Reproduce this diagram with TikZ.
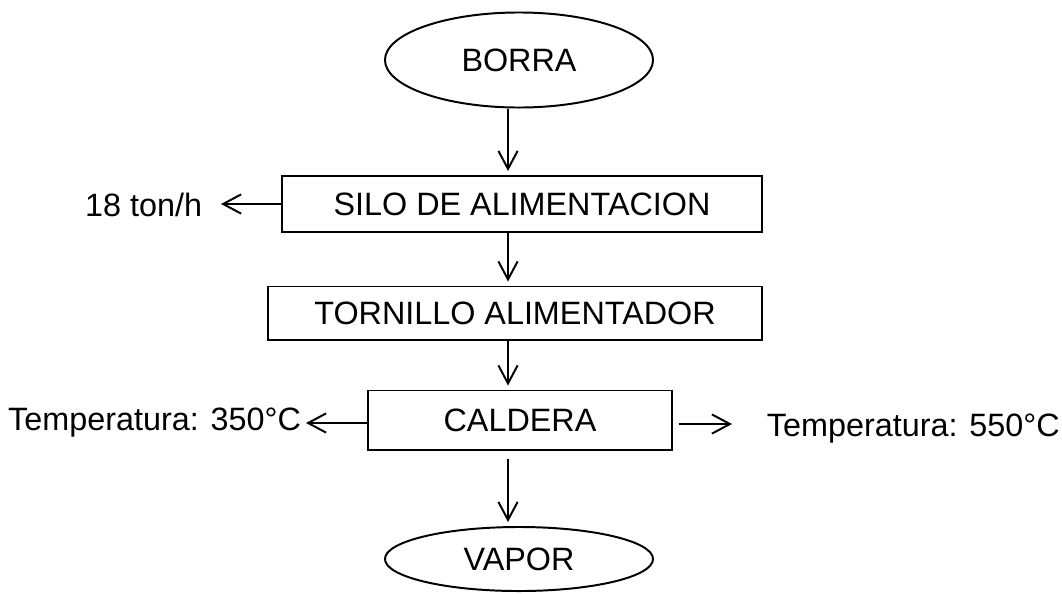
\documentclass[tikz,border=0pt]{standalone}
\usepackage{fontspec}
\setmainfont{Liberation Sans}
\usetikzlibrary{shapes.geometric,arrows.meta}

\begin{document}
\begin{tikzpicture}[x=0.025cm, y=-0.025cm, font=\fontsize{23}{27}\selectfont,
    terminal/.style={draw, ellipse, line width=1.4pt, inner sep=0pt},
    caja/.style={draw, rectangle, line width=1.4pt, inner sep=0pt},
    flecha/.style={-{Straight Barb[length=4.5mm, width=4.8mm, line width=1.4pt]}, line width=1.4pt}]
    \useasboundingbox (0,0) rectangle (1062,593);
        \coordinate (eje) at (508,0);
        \node[terminal, minimum width=6.7cm, minimum height=2.375cm] (borra) at (519,60) {BORRA};
        \node[caja, minimum width=11.975cm, minimum height=1.4cm] (silo) at (522,204) {SILO DE ALIMENTACION};
        \node[caja, minimum width=12.35cm, minimum height=1.325cm] (tornillo) at (515,313) {TORNILLO ALIMENTADOR};
        \node[caja, minimum width=7.575cm, minimum height=1.475cm] (caldera) at (520,420) {CALDERA};
        \node[terminal, minimum width=6.7cm, minimum height=1.6cm] (vapor) at (519,559) {VAPOR};
        \node[anchor=east] (flujo) at (207,205) {18 ton/h};
        \node[anchor=east] (tempin) at (306,423) {Temperatura: 350°C};
        \node[anchor=west] (tempout) at (762,429) {Temperatura: 550°C};
        \draw[flecha] (borra.south -| eje) -- ([yshift=1mm]silo.north -| eje);
        \draw[flecha] (silo.south -| eje) -- ([yshift=1mm]tornillo.north -| eje);
        \draw[flecha] (tornillo.south -| eje) -- ([yshift=1mm]caldera.north -| eje);
        \draw[flecha] ([yshift=-2mm]caldera.south -| eje) -- ([yshift=1mm]vapor.north -| eje);
        \draw[flecha] (silo.west) -- (221,204);
        \draw[flecha] (caldera.west |- 0,423) -- (tempin.east);
        \draw[flecha] ([xshift=1.5mm]caldera.east |- 0,424) -- (732,424);
    \end{tikzpicture}
\end{document}
